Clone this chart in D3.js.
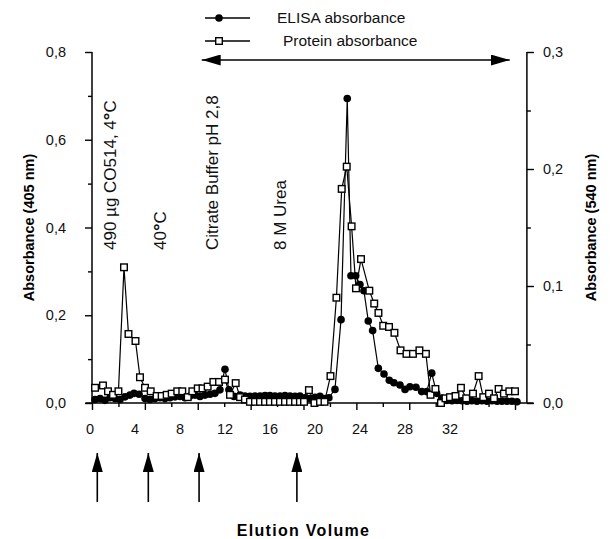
<!DOCTYPE html>
<html>
<head>
<meta charset="utf-8">
<script src="https://cdn.jsdelivr.net/npm/d3@7"></script>
<style>
  html, body { margin: 0; background: #fff; }
  svg { display: block; font-family: Arial, "Liberation Sans", Helvetica, sans-serif; }
</style>
</head>
<body>
<div id="chart"></div>
<script>
/* ── data ─────────────────────────────────────────────────────────── */
const xTicks      = [0, 4, 8, 12, 16, 20, 24, 28, 32];
const xMinorTicks = [2, 6, 10, 14, 18, 22, 26, 30];
const xTickLabels = ['0', '4', '8', '12', '16', '20', '24', '28', '32'];
const yLeftTicks   = [0, 0.2, 0.4, 0.6, 0.8];
const yLeftMinor   = [0.1, 0.3, 0.5, 0.7];
const yRightTicks  = [0, 0.1, 0.2, 0.3];
const yRightMinor  = [0.05, 0.15, 0.25];

/* protein absorbance (540 nm), [elution volume, absorbance] */
const protein = [
  [0.23, 0.013], [0.83, 0.015], [1.21, 0.010], [1.59, 0.007], [2.0, 0.010],
  [2.42, 0.116], [2.76, 0.059], [3.29, 0.053], [3.63, 0.022], [4.01, 0.013],
  [4.44, 0.010], [4.89, 0.006], [5.27, 0.006], [5.65, 0.007], [6.03, 0.008],
  [6.45, 0.010], [6.83, 0.010], [7.24, 0.005], [7.59, 0.010], [8.0, 0.0125],
  [8.36, 0.0125], [8.75, 0.014], [9.18, 0.018], [9.61, 0.018], [10.06, 0.020],
  [10.44, 0.007], [10.87, 0.017], [11.2, 0.005], [11.57, 0.003], [11.95, 0.001],
  [12.33, 0.001], [12.71, 0.001], [13.09, 0.001], [13.46, 0.001], [13.84, 0.001],
  [14.22, 0.001], [14.6, 0.001], [14.98, 0.001], [15.36, 0.001], [15.73, 0.001],
  [16.04, 0.001], [16.41, 0.011], [16.83, 0.0], [17.25, 0.001], [17.59, 0.001],
  [18.04, 0.023], [18.49, 0.090], [18.89, 0.183], [19.27, 0.202], [19.64, 0.151],
  [19.97, 0.098], [20.35, 0.123], [20.98, 0.096], [21.35, 0.085], [21.67, 0.077],
  [22.03, 0.066], [22.47, 0.065], [22.88, 0.060], [23.34, 0.045], [23.79, 0.042],
  [24.28, 0.042], [24.77, 0.045], [25.26, 0.042], [25.61, 0.007], [25.98, 0.012],
  [26.4, 0.0], [26.74, 0.004], [27.08, 0.005], [27.5, 0.006], [27.91, 0.013],
  [28.31, 0.004], [28.82, 0.008], [29.25, 0.023], [29.6, 0.005], [30.03, 0.008],
  [30.41, 0.004], [30.76, 0.012], [31.16, 0.008], [31.57, 0.010], [32.0, 0.010]
];

/* ELISA absorbance (405 nm), [elution volume, absorbance] */
const elisa = [
  [0.23, 0.008], [0.61, 0.010], [0.98, 0.006], [1.36, 0.012], [1.74, 0.010],
  [2.12, 0.008], [2.5, 0.014], [2.87, 0.018], [3.18, 0.022], [3.56, 0.020],
  [4.01, 0.010], [4.39, 0.008], [4.77, 0.010], [5.14, 0.012], [5.52, 0.010],
  [5.9, 0.012], [6.28, 0.014], [6.66, 0.015], [7.03, 0.012], [7.41, 0.016],
  [7.79, 0.018], [8.17, 0.015], [8.55, 0.018], [8.93, 0.020], [9.3, 0.022],
  [9.68, 0.030], [10.06, 0.077], [10.36, 0.030], [10.74, 0.015], [11.2, 0.018],
  [11.57, 0.016], [11.95, 0.015], [12.33, 0.016], [12.71, 0.016], [13.09, 0.017],
  [13.46, 0.017], [13.84, 0.016], [14.22, 0.016], [14.6, 0.017], [14.98, 0.016],
  [15.36, 0.015], [15.73, 0.016], [16.11, 0.012], [16.49, 0.010], [16.87, 0.013],
  [17.25, 0.015], [17.62, 0.010], [17.92, 0.012], [18.38, 0.031], [18.84, 0.190],
  [19.31, 0.694], [19.59, 0.290], [19.95, 0.290], [20.27, 0.270], [20.57, 0.256],
  [20.9, 0.187], [21.23, 0.165], [21.66, 0.079], [22.09, 0.066], [22.49, 0.052],
  [22.84, 0.046], [23.3, 0.041], [23.68, 0.031], [24.05, 0.037], [24.51, 0.036],
  [24.94, 0.026], [25.32, 0.026], [25.7, 0.068], [26.07, 0.022], [26.45, 0.011],
  [26.85, 0.006], [27.23, 0.005], [27.61, 0.006], [27.99, 0.005], [28.37, 0.004],
  [28.74, 0.005], [29.12, 0.004], [29.5, 0.005], [29.88, 0.004], [30.26, 0.005],
  [30.64, 0.004], [31.01, 0.004], [31.39, 0.004], [31.77, 0.004], [32.15, 0.003]
];

/* sample / buffer applications (elution volume) */
const injections = [0.4, 4.26, 8.1, 15.5];
const stepLabels = [
  { v: 1.36,  parts: ['490 µg CO514, 4', '°', 'C'] },
  { v: 5.14,  parts: ['40', '°', 'C'] },
  { v: 9.08,  parts: ['Citrate Buffer pH 2,8'] },
  { v: 14.22, parts: ['8 M Urea'] }
];
const elutionSpan = [8.3, 31.6];

/* ── layout ───────────────────────────────────────────────────────── */
const W = 611, H = 539;
const FONT = 'Arial, "Liberation Sans", Helvetica, sans-serif';

const svg = d3.select('#chart').append('svg')
  .attr('width', W).attr('height', H);

const x    = d3.scaleLinear().domain([0, 32]).range([92, 515]);
const xLab = d3.scaleLinear().domain([0, 32]).range([90, 450]);   // labels are set tighter than ticks
const yL   = d3.scaleLinear().domain([0, 0.8]).range([403, 52]);
const yR   = d3.scaleLinear().domain([0, 0.3]).range([403, 52]);

const xLeft = x(0), xRight = x(32.9), yBase = yL(0), yTop = yL(0.8);
const comma = d => d.toFixed(1).replace('.', ',');

function styleAxis(g) {
  g.select('.domain').remove();
  g.selectAll('line').attr('stroke', '#000').attr('stroke-width', 1.4);
  g.selectAll('text').attr('font-family', FONT).attr('font-size', 14.5).attr('fill', '#111');
}

/* x axis */
svg.append('g').attr('transform', `translate(0,${yBase})`)
  .call(d3.axisBottom(x).tickValues(xMinorTicks).tickSize(4).tickFormat(''))
  .call(styleAxis);
svg.append('g').attr('transform', `translate(0,${yBase})`)
  .call(d3.axisBottom(x).tickValues(xTicks).tickSize(7).tickFormat(''))
  .call(styleAxis);
svg.append('line')
  .attr('x1', x(-0.5)).attr('x2', x(33.4)).attr('y1', yBase).attr('y2', yBase)
  .attr('stroke', '#000').attr('stroke-width', 1.5);
svg.append('g').selectAll('text').data(xTicks).join('text')
  .attr('x', d => xLab(d)).attr('y', yBase + 31)
  .attr('text-anchor', 'middle')
  .attr('font-family', FONT).attr('font-size', 14.5).attr('fill', '#111')
  .text((d, i) => xTickLabels[i]);

/* left axis */
svg.append('g').attr('transform', `translate(${xLeft},0)`)
  .call(d3.axisLeft(yL).tickValues(yLeftMinor).tickSize(4).tickFormat(''))
  .call(styleAxis);
svg.append('g').attr('transform', `translate(${xLeft},0)`)
  .call(d3.axisLeft(yL).tickValues(yLeftTicks).tickSize(7).tickPadding(19).tickFormat(comma))
  .call(styleAxis);
svg.append('line')
  .attr('x1', xLeft).attr('x2', xLeft).attr('y1', yTop).attr('y2', yBase)
  .attr('stroke', '#000').attr('stroke-width', 1.5);

/* right axis */
svg.append('g').attr('transform', `translate(${xRight},0)`)
  .call(d3.axisRight(yR).tickValues(yRightMinor).tickSize(4).tickFormat(''))
  .call(styleAxis);
svg.append('g').attr('transform', `translate(${xRight},0)`)
  .call(d3.axisRight(yR).tickValues(yRightTicks).tickSize(7).tickPadding(9).tickFormat(comma))
  .call(styleAxis);
svg.append('line')
  .attr('x1', xRight).attr('x2', xRight).attr('y1', yR(0.3)).attr('y2', yBase)
  .attr('stroke', '#000').attr('stroke-width', 1.5);

/* axis titles */
svg.append('text')
  .attr('transform', `translate(29,${(yTop + yBase) / 2}) rotate(-90)`)
  .attr('text-anchor', 'middle').attr('dy', '0.35em')
  .attr('font-family', FONT).attr('font-size', 14.5).attr('font-weight', 'bold')
  .text('Absorbance (405 nm)');
svg.append('text')
  .attr('transform', `translate(591,${(yTop + yBase) / 2}) rotate(-90)`)
  .attr('text-anchor', 'middle').attr('dy', '0.35em')
  .attr('font-family', FONT).attr('font-size', 14.5).attr('font-weight', 'bold')
  .text('Absorbance (540 nm)');
svg.append('text')
  .attr('x', (x(0) + x(32)) / 2).attr('y', 536)
  .attr('text-anchor', 'middle')
  .attr('font-family', FONT).attr('font-size', 16).attr('font-weight', 'bold')
  .attr('letter-spacing', 1.3)
  .text('Elution Volume');

/* ── series ───────────────────────────────────────────────────────── */
const lineE = d3.line().x(d => x(d[0])).y(d => yL(d[1]));
const lineP = d3.line().x(d => x(d[0])).y(d => yR(d[1]));

svg.append('path').datum(elisa)
  .attr('fill', 'none').attr('stroke', '#000').attr('stroke-width', 1.2).attr('d', lineE);
svg.append('g').selectAll('circle').data(elisa).join('circle')
  .attr('cx', d => x(d[0])).attr('cy', d => yL(d[1]))
  .attr('r', 3.8).attr('fill', '#000');

svg.append('path').datum(protein)
  .attr('fill', 'none').attr('stroke', '#000').attr('stroke-width', 1.2).attr('d', lineP);
svg.append('g').selectAll('rect').data(protein).join('rect')
  .attr('x', d => x(d[0]) - 3.3).attr('y', d => yR(d[1]) - 3.3)
  .attr('width', 6.6).attr('height', 6.6)
  .attr('fill', '#fff').attr('stroke', '#000').attr('stroke-width', 1.4);

/* ── annotations ──────────────────────────────────────────────────── */
const defs = svg.append('defs');
defs.append('marker').attr('id', 'head')
  .attr('viewBox', '0 0 10 10').attr('refX', 10).attr('refY', 5)
  .attr('markerWidth', 19).attr('markerHeight', 11).attr('markerUnits', 'userSpaceOnUse')
  .attr('preserveAspectRatio', 'none')
  .attr('orient', 'auto-start-reverse')
  .append('path').attr('d', 'M0,0 L10,5 L0,10 Z').attr('fill', '#000');

/* injection arrows below the axis */
svg.append('g').selectAll('line').data(injections).join('line')
  .attr('x1', d => x(d)).attr('x2', d => x(d))
  .attr('y1', 502).attr('y2', 453)
  .attr('stroke', '#000').attr('stroke-width', 1.6)
  .attr('marker-end', 'url(#head)');

/* elution double arrow */
svg.append('line')
  .attr('x1', x(elutionSpan[0])).attr('x2', x(elutionSpan[1]))
  .attr('y1', 60).attr('y2', 60)
  .attr('stroke', '#000').attr('stroke-width', 1.6)
  .attr('marker-start', 'url(#head)').attr('marker-end', 'url(#head)');

/* vertical step labels */
stepLabels.forEach(s => {
  const t = svg.append('text')
    .attr('transform', `translate(${x(s.v)},250) rotate(-90)`)
    .attr('dy', '0.35em')
    .attr('font-family', FONT).attr('font-size', 17).attr('fill', '#111');
  s.parts.forEach(p => {
    const sp = t.append('tspan').text(p);
    if (p === '°') sp.attr('font-weight', 'bold').attr('font-size', 19);
  });
});

/* legend */
const leg = svg.append('g');
[['ELISA absorbance', 'circle', 18, 277], ['Protein absorbance', 'square', 41, 283]]
  .forEach(([label, shape, ly, tx]) => {
    leg.append('line').attr('x1', 205).attr('x2', 250).attr('y1', ly).attr('y2', ly)
      .attr('stroke', '#000').attr('stroke-width', 1.3);
    if (shape === 'circle') {
      leg.append('circle').attr('cx', 219).attr('cy', ly).attr('r', 3.8).attr('fill', '#000');
    } else {
      leg.append('rect').attr('x', 219 - 3.3).attr('y', ly - 3.3)
        .attr('width', 6.6).attr('height', 6.6)
        .attr('fill', '#fff').attr('stroke', '#000').attr('stroke-width', 1.4);
    }
    leg.append('text').attr('x', tx).attr('y', ly + 5)
      .attr('font-family', FONT).attr('font-size', 15.5).attr('fill', '#111')
      .text(label);
  });
</script>
</body>
</html>
